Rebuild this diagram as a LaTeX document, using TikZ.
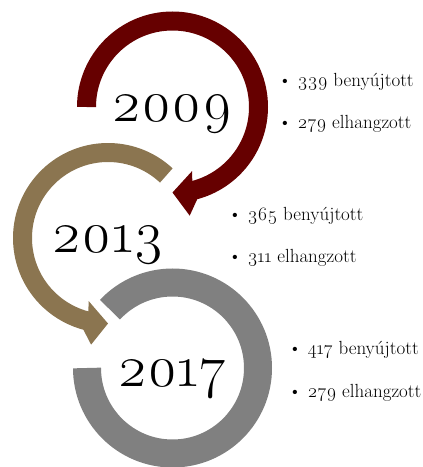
\documentclass[tikz,border=0pt]{standalone}
\usepackage{fontspec}
\setmainfont{Latin Modern Roman}[Numbers=OldStyle]
\definecolor{ringred}{HTML}{660000}
\definecolor{ringtan}{HTML}{8B7550}
\definecolor{ringgray}{HTML}{808080}

\begin{document}
\begin{tikzpicture}[x=1pt,y=1pt,
        year/.style={anchor=base,font=\fontsize{58}{60}\selectfont},
        item/.style={anchor=base west,inner sep=0pt,font=\fontsize{19}{21}\selectfont},
        ring/.style={line width=19pt}]
    \useasboundingbox (0,0) rectangle (423,467);
    \coordinate (c1) at (172.5,360);
    \coordinate (c2) at (108,229);
    \coordinate (c3) at (172.5,99);

    % 2009
    \begin{scope}[shift={(c1)}]
        \draw[ring,ringred] (180:86) arc[start angle=180,end angle=-76,radius=86];
        \fill[ringred] (285:76.5) -- (287:67) -- (270:85.5) -- (279:110) -- (285:95.5) -- cycle;
    \end{scope}
    % 2013
    \begin{scope}[shift={(c2)}]
        \draw[ring,ringtan] (47:85.5) arc[start angle=47,end angle=256,radius=85.5];
        \fill[ringtan] (255:76) -- (253:66) -- (270:85.5) -- (261:108) -- (255:95) -- cycle;
    \end{scope}
    % 2017
    \begin{scope}[shift={(c3)}]
        \draw[ring,ringgray,line width=28pt] (180:85.5) arc[start angle=180,end angle=497,radius=85.5];
    \end{scope}

    \node[year] (y2009) at (172,345) {2009};
    \node[year] (y2013) at (108,214) {2013};
    \node[year] (y2017) at (172,80) {2017};

    \node[item] (s2009) at (278,380) {\textbullet\ 339 benyújtott};
    \node[item] (h2009) at (278,338) {\textbullet\ 279 elhangzott};
    \node[item] (s2013) at (228,246) {\textbullet\ 365 benyújtott};
    \node[item] (h2013) at (228,204) {\textbullet\ 311 elhangzott};
    \node[item] (s2017) at (288,112) {\textbullet\ 417 benyújtott};
    \node[item] (h2017) at (288,70) {\textbullet\ 279 elhangzott};
\end{tikzpicture}
\end{document}
